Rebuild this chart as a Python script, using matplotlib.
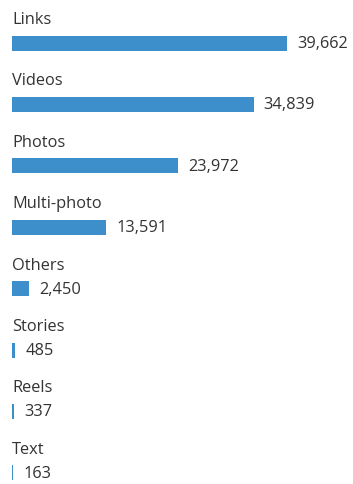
import matplotlib.pyplot as plt

categories = ['Links', 'Videos', 'Photos', 'Multi-photo', 'Others', 'Stories', 'Reels', 'Text']
values = [39662, 34839, 23972, 13591, 2450, 485, 337, 163]
value_labels = ['39,662', '34,839', '23,972', '13,591', '2,450', '485', '337', '163']

plt.rcParams['font.family'] = ['Open Sans', 'DejaVu Sans']

fig = plt.figure(figsize=(3.53, 4.85), dpi=100)
ax = fig.add_axes([0, 0, 1, 1])

scale = 275 / 39662  # px per unit
step = 61.4          # px per row
ax.set_xlim(-12 / scale, (353 - 12) / scale)
ax.set_ylim((485 - 44) / step, -44 / step)

ypos = list(range(len(categories)))
ax.barh(ypos, values, height=15 / step, color='#3c8fca', left=0)

for i, (cat, v, lab) in enumerate(zip(categories, values, value_labels)):
    ax.text(0, i - 24 / step, cat, fontsize=11.8, color='#333333', va='center', ha='left')
    ax.annotate(lab, (v, i), xytext=(10, 0), textcoords='offset pixels',
                fontsize=11.8, color='#333333', va='center', ha='left')

ax.axis('off')
fig.savefig('out.png', dpi=100)
